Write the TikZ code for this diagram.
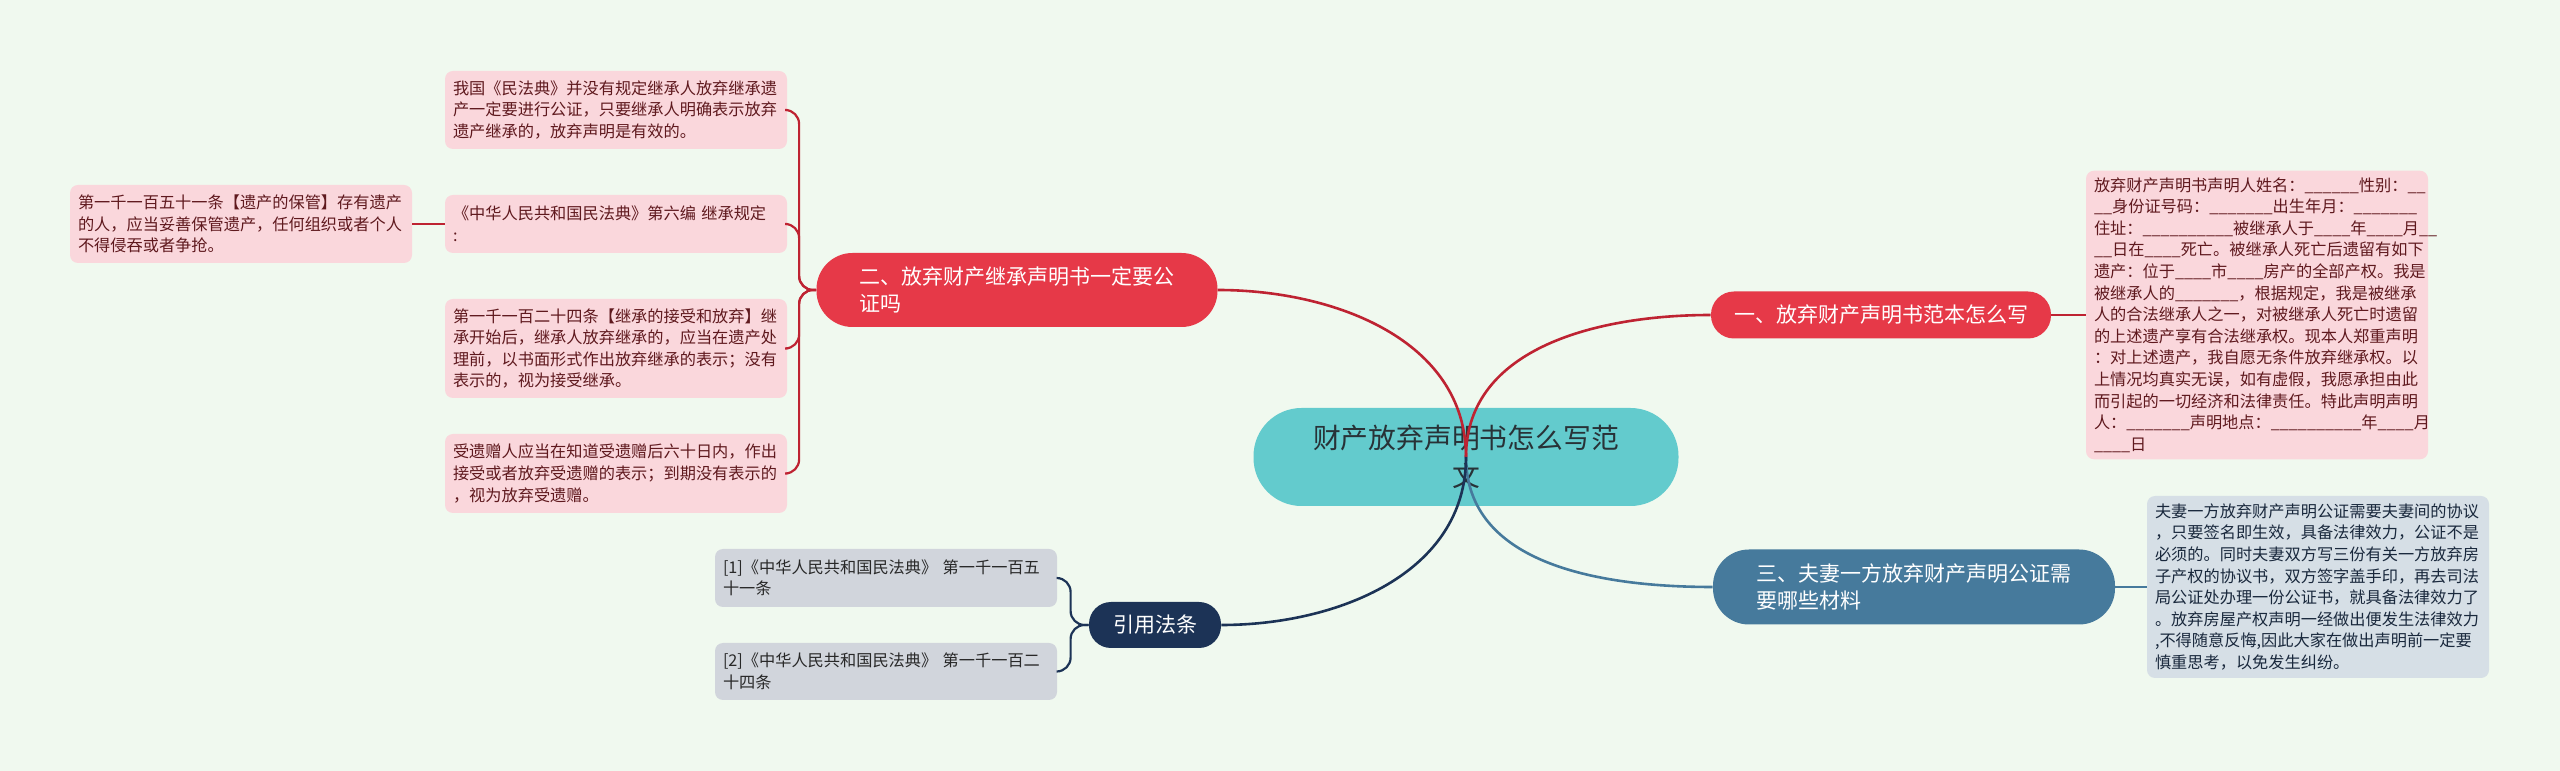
\documentclass[tikz,border=0pt]{standalone}
\usepackage{fontspec}
\setmainfont{Noto Sans CJK SC}
\usepackage{tikz}

\definecolor{bg_mint}{RGB}{240,249,239}
\definecolor{root_teal}{RGB}{99,203,205}
\definecolor{root_text}{RGB}{40,50,55}
\definecolor{branch_red}{RGB}{230,57,72}
\definecolor{branch_steel}{RGB}{70,122,156}
\definecolor{branch_navy}{RGB}{28,51,86}
\definecolor{leaf_pink}{RGB}{250,215,220}
\definecolor{leaf_pink_text}{RGB}{95,25,30}
\definecolor{leaf_blue}{RGB}{214,223,230}
\definecolor{leaf_blue_text}{RGB}{25,40,60}
\definecolor{leaf_grey}{RGB}{209,213,220}
\definecolor{leaf_grey_text}{RGB}{40,40,40}
\definecolor{link_red}{RGB}{190,35,50}

\begin{document}
\begin{tikzpicture}[x=0.5pt, y=0.5pt,
    root/.style={fill=root_teal, text=root_text, rounded corners=24pt, minimum width=212.5pt,
      minimum height=49pt, align=center, font=\fontsize{13.9pt}{19pt}\selectfont},
    branch/.style={text=white, align=left, inner xsep=0pt, font=\fontsize{10.5pt}{13.3pt}\selectfont},
    leaf/.style={fill=leaf_pink, text=leaf_pink_text, rounded corners=4pt, inner xsep=4pt,
      text width=163pt, align=left, minimum height=#1, font=\fontsize{8.1pt}{10.8pt}\selectfont},
    main_link/.style={line width=1.3pt},
    leaf_link/.style={line width=1.1pt, rounded corners=7pt}]
      \useasboundingbox (0,0) rectangle (2560,771);
      \fill[bg_mint] (0,0) rectangle (2560,771);

      % Define coordinates
      \coordinate (root_pos) at (1466, 314);
      \coordinate (two_pos) at (1017, 481);
      \coordinate (one_pos) at (1881, 456);
      \coordinate (three_pos) at (1914, 184);
      \coordinate (cite_pos) at (1155, 146);

      % Draw the central topic
      \node[root] (root) at (root_pos) {财产放弃声明书怎么写范\\文};

      % Draw the main branches
      \node[branch, fill=branch_red, minimum width=200.5pt, minimum height=37pt, rounded corners=18pt]
        (branch_two) at (two_pos) {二、放弃财产继承声明书一定要公\\证吗};
      \node[branch, fill=branch_red, minimum width=170pt, minimum height=23.5pt, rounded corners=11.5pt]
        (branch_one) at (one_pos) {一、放弃财产声明书范本怎么写};
      \node[branch, fill=branch_steel, minimum width=201pt, minimum height=37.5pt, rounded corners=18pt]
        (branch_three) at (three_pos) {三、夫妻一方放弃财产声明公证需\\要哪些材料};
      \node[branch, fill=branch_navy, minimum width=66pt, minimum height=23pt, rounded corners=11pt]
        (cite_branch) at (cite_pos) {引用法条};

      % Draw the leaves of branch two
      \node[leaf=39pt] (leaf_law) at (616, 661)
        {我国《民法典》并没有规定继承人放弃继承遗\\产一定要进行公证，只要继承人明确表示放弃\\遗产继承的，放弃声明是有效的。};
      \node[leaf=29pt] (leaf_code) at (616, 547)
        {《中华人民共和国民法典》第六编 继承规定\\:};
      \node[leaf=39pt] (leaf_keep) at (241, 547)
        {第一千一百五十一条【遗产的保管】存有遗产\\的人，应当妥善保管遗产，任何组织或者个人\\不得侵吞或者争抢。};
      \node[leaf=49.5pt] (leaf_accept) at (616, 422.5)
        {第一千一百二十四条【继承的接受和放弃】继\\承开始后，继承人放弃继承的，应当在遗产处\\理前，以书面形式作出放弃继承的表示；没有\\表示的，视为接受继承。};
      \node[leaf=39.5pt] (leaf_gift) at (616, 297.5)
        {受遗赠人应当在知道受遗赠后六十日内，作出\\接受或者放弃受遗赠的表示；到期没有表示的\\，视为放弃受遗赠。};

      % Draw the leaves on the right
      \node[leaf=144pt] (leaf_sample) at (2257, 456)
        {放弃财产声明书声明人姓名：\_\_\_\_\_\_性别：\_\_\\
         \_\_身份证号码：\_\_\_\_\_\_\_出生年月：\_\_\_\_\_\_\_\\
         住址：\_\_\_\_\_\_\_\_\_\_被继承人于\_\_\_\_年\_\_\_\_月\_\_\\
         \_\_日在\_\_\_\_死亡。被继承人死亡后遗留有如下\\
         遗产：位于\_\_\_\_市\_\_\_\_房产的全部产权。我是\\
         被继承人的\_\_\_\_\_\_\_，根据规定，我是被继承\\
         人的合法继承人之一，对被继承人死亡时遗留\\
         的上述遗产享有合法继承权。现本人郑重声明\\
         ：对上述遗产，我自愿无条件放弃继承权。以\\
         上情况均真实无误，如有虚假，我愿承担由此\\
         而引起的一切经济和法律责任。特此声明声明\\
         人：\_\_\_\_\_\_\_声明地点：\_\_\_\_\_\_\_\_\_\_年\_\_\_\_月\\
         \_\_\_\_日};
      \node[leaf=91pt, fill=leaf_blue, text=leaf_blue_text] (leaf_couple) at (2318, 184)
        {夫妻一方放弃财产声明公证需要夫妻间的协议\\，只要签名即生效，具备法律效力，公证不是\\
         必须的。同时夫妻双方写三份有关一方放弃房\\子产权的协议书，双方签字盖手印，再去司法\\
         局公证处办理一份公证书，就具备法律效力了\\。放弃房屋产权声明一经做出便发生法律效力\\
         ,不得随意反悔,因此大家在做出声明前一定要\\慎重思考，以免发生纠纷。};

      % Draw the cited articles
      \node[leaf=29pt, fill=leaf_grey, text=leaf_grey_text] (cite_one) at (886, 193)
        {[1]《中华人民共和国民法典》 第一千一百五\\十一条};
      \node[leaf=28.5pt, fill=leaf_grey, text=leaf_grey_text] (cite_two) at (886, 99.5)
        {[2]《中华人民共和国民法典》 第一千一百二\\十四条};

      % Draw links from the central topic
      \draw[main_link, link_red] (root.center) to[out=90, in=0] (branch_two.east);
      \draw[main_link, link_red] (root.center) to[out=90, in=180] (branch_one.west);
      \draw[main_link, branch_steel] (root.center) to[out=-90, in=180] (branch_three.west);
      \draw[main_link, branch_navy] (root.center) to[out=-90, in=0] (cite_branch.east);

      % Draw links to the leaves
      \coordinate (fork_two) at ([xshift=-8.5pt]branch_two.west);
      \coordinate (fork_cite) at ([xshift=-9pt]cite_branch.west);
      \foreach \leafname in {leaf_law, leaf_code, leaf_accept, leaf_gift}
        \draw[leaf_link, link_red] (branch_two.west) -- (fork_two) |- (\leafname.east);
      \draw[leaf_link, link_red] (leaf_code.west) -- (leaf_keep.east);
      \draw[leaf_link, link_red] (branch_one.east) -- (leaf_sample.west);
      \draw[leaf_link, branch_steel] (branch_three.east) -- (leaf_couple.west);
      \foreach \leafname in {cite_one, cite_two}
        \draw[leaf_link, branch_navy] (cite_branch.west) -- (fork_cite) |- (\leafname.east);
\end{tikzpicture}
\end{document}
